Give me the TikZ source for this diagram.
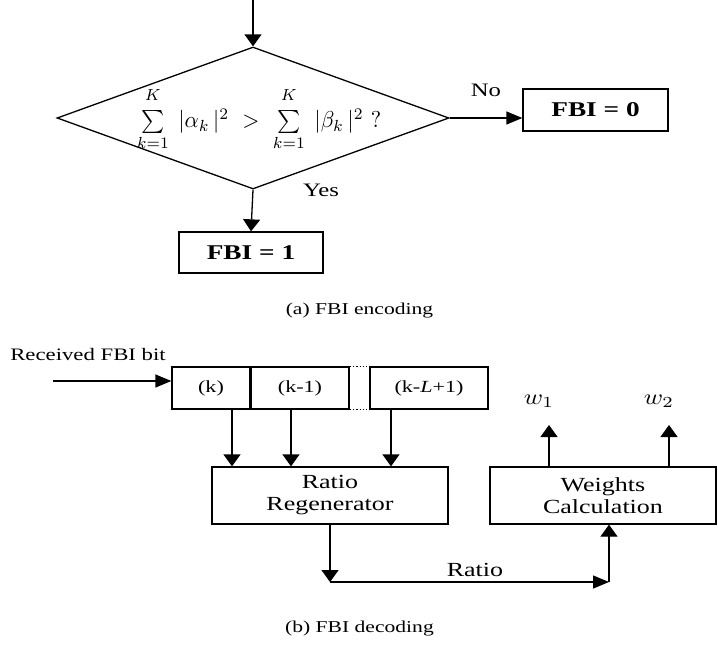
\RequirePackage{fix-cm}
\documentclass[tikz,border=0pt]{standalone}
\usepackage{amsmath}
\usepackage{fontspec}
\usepackage{graphicx}
\setmainfont{Liberation Serif}[FakeStretch=1.3]
\usetikzlibrary{shapes.geometric,arrows.meta}
\newcommand{\upK}{\raisebox{2.5pt}{$\scriptstyle K$}}
\begin{document}
\begin{tikzpicture}[x=1pt,y=-1pt,
  line width=1.3pt,
  box/.style={draw, rectangle, inner sep=0pt, align=center},
  harrow/.style={-{Triangle[length=16pt,width=13pt]}},
  varrow/.style={-{Triangle[length=12pt,width=17pt]}},
  lbl/.style={inner sep=0pt, font=\fontsize{19}{22}\selectfont},
  smalltxt/.style={inner sep=0pt, font=\fontsize{17.5}{20}\selectfont},
  captxt/.style={inner sep=0pt, font=\fontsize{16.6}{19}\selectfont},
  bigtxt/.style={font=\fontsize{20}{22}\selectfont}]
\useasboundingbox (0,0) rectangle (718,648);

% ---------- (a) FBI encoding ----------
\coordinate (top) at (253,0);
\node[draw, diamond, aspect=2.76, minimum width=392pt, minimum height=142pt, inner sep=0pt] (dia) at (253,118) {};
\node[inner sep=0pt, font=\fontsize{10}{12}\selectfont] (cond) at ([xshift=6pt,yshift=-1pt]dia.center)
  {\scalebox{2.2}[2.3]{$\sum\limits_{k=1}^{\upK}\;|\alpha_{k}\,|^{2}\ >\ \sum\limits_{k=1}^{\upK}\;|\beta_{k}\,|^{2}\ ?$}};
\node[box, minimum width=145pt, minimum height=42pt, font=\fontsize{21}{24}\selectfont\bfseries] (fbi0) at (595.5,110) {FBI = 0};
\node[box, minimum width=144pt, minimum height=41pt, font=\fontsize{21}{24}\selectfont\bfseries] (fbi1) at (251,252.5) {FBI = 1};
\node[lbl] (no) at (486,90) {No};
\node[lbl] (yes) at (321,190) {Yes};
\node[captxt] (capa) at (359.5,311) {(a) FBI encoding};

\draw[varrow] (top) -- (dia.north);
\draw[harrow] (dia.east) -- (dia.east -| fbi0.west);
\draw[varrow] (dia.south) -- (fbi1.north);

% ---------- (b) FBI decoding ----------
\node[smalltxt] (recv) at (88,355) {Received FBI bit};
\coordinate (in) at (53,381);
\node[box, minimum width=78pt, minimum height=42pt, font=\fontsize{17}{20}\selectfont] (r1) at (211,388) {(k)};
\node[box, minimum width=98pt, minimum height=42pt, font=\fontsize{17}{20}\selectfont] (r2) at (300,388) {(k-1)};
\node[box, minimum width=118pt, minimum height=42pt, font=\fontsize{17}{20}\selectfont] (r3) at (429,388) {(k-\textit{L}+1)};
\draw[dotted, line width=1.3pt] (r2.north east) -- (r3.north west);
\draw[dotted, line width=1.3pt] (r2.south east) -- (r3.south west);

\node[box, minimum width=236pt, minimum height=57pt, bigtxt] (rr) at (330,495.5) {Ratio\\Regenerator};
\node[box, minimum width=226pt, minimum height=57pt, bigtxt] (wc) at (603,495.5) {Weights\\Calculation};

\node[inner sep=0pt, font=\fontsize{10}{12}\selectfont] (w1) at (539,401) {\scalebox{2.6}[2.2]{$w_{1}$}};
\node[inner sep=0pt, font=\fontsize{10}{12}\selectfont] (w2) at (659,401) {\scalebox{2.6}[2.2]{$w_{2}$}};
\coordinate (w1tip) at (549,425);
\coordinate (w2tip) at (669,425);
\coordinate (rl) at (0,582);
\node[inner sep=0pt, bigtxt] (ratio) at (475,570) {Ratio};
\node[captxt] (capb) at (359.5,629) {(b) FBI decoding};

\draw[harrow] (in) -- (in -| r1.west);
\draw[varrow] ([xshift=21pt]r1.south) -- ([xshift=21pt]r1.south |- rr.north);
\draw[varrow] ([xshift=-9pt]r2.south) -- ([xshift=-9pt]r2.south |- rr.north);
\draw[varrow] ([xshift=-38pt]r3.south) -- ([xshift=-38pt]r3.south |- rr.north);
\draw[varrow] (w1tip |- wc.north) -- (w1tip);
\draw[varrow] (w2tip |- wc.north) -- (w2tip);
\draw[varrow] (rr.south) -- (rr.south |- rl);
\draw[harrow] (rr.south |- rl) -- ([xshift=6pt]wc.south |- rl);
\draw[varrow] ([xshift=6pt]wc.south |- rl) -- ([xshift=6pt]wc.south);
\end{tikzpicture}
\end{document}
